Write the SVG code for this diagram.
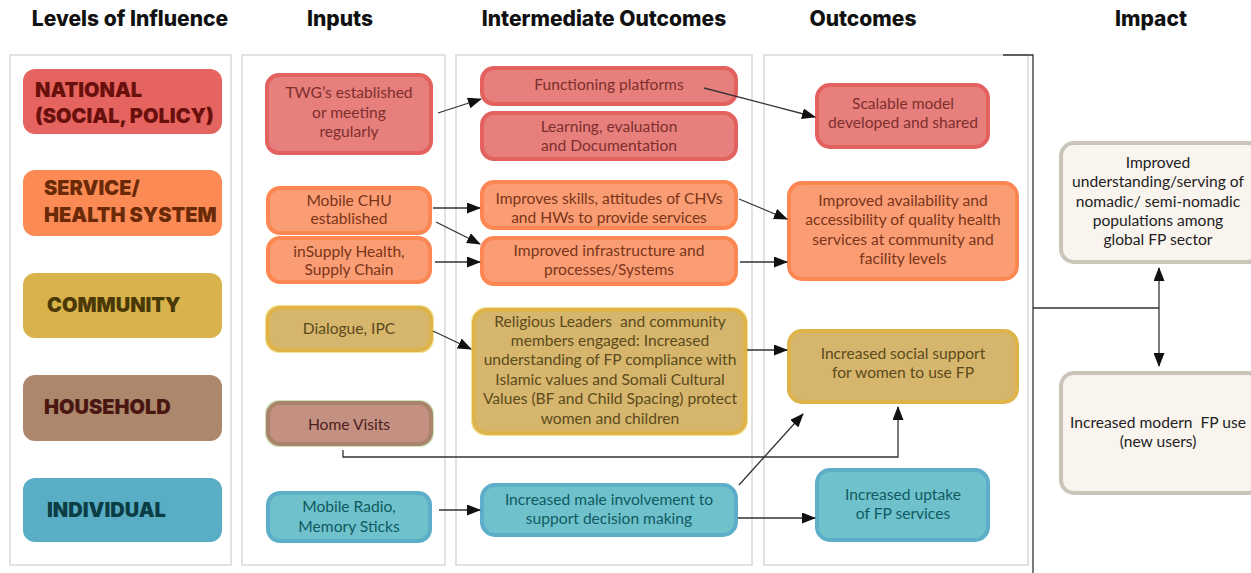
<svg xmlns="http://www.w3.org/2000/svg" width="1251" height="573" viewBox="0 0 1251 573">
  <defs>
    <marker id="arrow" viewBox="0 0 14 11" refX="13" refY="5.5" markerWidth="14" markerHeight="11" markerUnits="userSpaceOnUse" orient="auto-start-reverse">
      <path d="M0,0 L14,5.5 L0,11 z" fill="#111"/>
    </marker>
    <style>
      .hdr { font-family: Inter, "Liberation Sans", sans-serif; font-weight: 800; font-size: 21px; fill: #111; text-anchor: middle; }
      .panel { fill: #fff; stroke: #d9d9d9; stroke-width: 1.5; }
      .lvl { font-family: Inter, "Liberation Sans", sans-serif; font-weight: 900; font-size: 20px; }
      .txt { font-family: Lato, "Open Sans", sans-serif; font-size: 15.6px; text-anchor: middle; dominant-baseline: central; white-space: pre; }
      .box { stroke-width: 4; }
      .red { fill: #e77f7d; stroke: #e3615e; }
      .red-t { fill: #7e2f2d; }
      .org { fill: #fb9d74; stroke: #fc8752; }
      .org-t { fill: #7a3519; }
      .yel { fill: #d5b66c; stroke: #deb44a; }
      .yel-t { fill: #5c4a1c; }
      .brn { fill: #c49082; stroke: #a9836a; }
      .brn-t { fill: #4a1f1f; }
      .blu { fill: #6fc2cb; stroke: #5caec9; }
      .blu-t { fill: #0f5a62; }
      .imp { fill: #faf4ef; stroke: #c9c6b9; }
      .imp-t { fill: #222; }
      .conn path { fill: none; stroke: #333; stroke-width: 1.3; }
    </style>
  </defs>

  <!-- column headings -->
  <g id="headings">
    <text class="hdr" x="130" y="26">Levels of Influence</text>
    <text class="hdr" x="340" y="26">Inputs</text>
    <text class="hdr" x="604" y="26">Intermediate Outcomes</text>
    <text class="hdr" x="863" y="26">Outcomes</text>
    <text class="hdr" x="1151" y="26">Impact</text>
  </g>

  <!-- column panels -->
  <g id="panels">
    <rect class="panel" x="10" y="55" width="221" height="510"/>
    <rect class="panel" x="242" y="55" width="203" height="510"/>
    <rect class="panel" x="456" y="55" width="296" height="510"/>
    <rect class="panel" x="764" y="55" width="264" height="510"/>
  </g>

  <!-- levels of influence -->
  <g id="level-national">
    <rect x="23" y="69" width="199" height="65" rx="12" fill="#e5645f"/>
    <text class="lvl" fill="#6a100c" x="35" y="97">NATIONAL</text>
    <text class="lvl" fill="#6a100c" x="35" y="123">(SOCIAL, POLICY)</text>
  </g>
  <g id="level-service">
    <rect x="23" y="170" width="199" height="66" rx="12" fill="#fc8a55"/>
    <text class="lvl" fill="#6a2a08" x="44" y="195">SERVICE/</text>
    <text class="lvl" fill="#6a2a08" x="44" y="222">HEALTH SYSTEM</text>
  </g>
  <g id="level-community">
    <rect x="23" y="273" width="199" height="65" rx="12" fill="#d8b24a"/>
    <text class="lvl" fill="#4a3806" x="47" y="312">COMMUNITY</text>
  </g>
  <g id="level-household">
    <rect x="23" y="375" width="199" height="66" rx="12" fill="#ad876b"/>
    <text class="lvl" fill="#4a1612" x="44" y="414">HOUSEHOLD</text>
  </g>
  <g id="level-individual">
    <rect x="23" y="478" width="199" height="64" rx="12" fill="#59adc5"/>
    <text class="lvl" fill="#0b3e44" x="47" y="517">INDIVIDUAL</text>
  </g>

  <!-- inputs -->
  <g id="in-twg">
    <rect class="box red" x="267" y="75" width="164" height="78" rx="12"/>
    <text class="txt red-t" x="349" y="92">TWG’s established</text>
    <text class="txt red-t" x="349" y="112">or meeting</text>
    <text class="txt red-t" x="349" y="131">regularly</text>
  </g>
  <g id="in-chu">
    <rect class="box org" x="268" y="188" width="162" height="45" rx="12"/>
    <text class="txt org-t" x="349" y="200">Mobile CHU</text>
    <text class="txt org-t" x="349" y="218">established</text>
  </g>
  <g id="in-insupply">
    <rect class="box org" x="268" y="238" width="162" height="44" rx="12"/>
    <text class="txt org-t" x="349" y="251">inSupply Health,</text>
    <text class="txt org-t" x="349" y="269">Supply Chain</text>
  </g>
  <g id="in-dialogue">
    <rect x="266" y="306" width="167" height="46" rx="13" fill="none" stroke="#f4e394" stroke-width="2"/>
    <rect class="box yel" x="268" y="308" width="163" height="42" rx="12"/>
    <text class="txt yel-t" x="349" y="328">Dialogue, IPC</text>
  </g>
  <g id="in-home">
    <rect x="266" y="401" width="167" height="45" rx="13" fill="none" stroke="#cfe3bd" stroke-width="2"/>
    <rect class="box brn" x="268" y="403" width="163" height="41" rx="12"/>
    <text class="txt brn-t" x="349" y="424">Home Visits</text>
  </g>
  <g id="in-radio">
    <rect class="box blu" x="268" y="493" width="162" height="48" rx="12"/>
    <text class="txt blu-t" x="349" y="506">Mobile Radio,</text>
    <text class="txt blu-t" x="349" y="526">Memory Sticks</text>
  </g>

  <!-- intermediate outcomes -->
  <g id="io-platforms">
    <rect class="box red" x="482" y="68" width="254" height="36" rx="12"/>
    <text class="txt red-t" x="609" y="84">Functioning platforms</text>
  </g>
  <g id="io-learning">
    <rect class="box red" x="482" y="113" width="254" height="46" rx="12"/>
    <text class="txt red-t" x="609" y="126">Learning, evaluation</text>
    <text class="txt red-t" x="609" y="145">and Documentation</text>
  </g>
  <g id="io-skills">
    <rect class="box org" x="482" y="182" width="254" height="46" rx="12"/>
    <text class="txt org-t" x="609" y="198">Improves skills, attitudes of CHVs</text>
    <text class="txt org-t" x="609" y="217">and HWs to provide services</text>
  </g>
  <g id="io-infra">
    <rect class="box org" x="482" y="238" width="254" height="46" rx="12"/>
    <text class="txt org-t" x="609" y="250">Improved infrastructure and</text>
    <text class="txt org-t" x="609" y="269">processes/Systems</text>
  </g>
  <g id="io-religious">
    <rect x="472" y="308" width="275" height="127" rx="14" fill="none" stroke="#f4e394" stroke-width="2"/>
    <rect class="box yel" x="474" y="310" width="271" height="123" rx="13"/>
    <text class="txt yel-t" x="610" y="321">Religious Leaders  and community</text>
    <text class="txt yel-t" x="610" y="340">members engaged: Increased</text>
    <text class="txt yel-t" x="610" y="359">understanding of FP compliance with</text>
    <text class="txt yel-t" x="610" y="379">Islamic values and Somali Cultural</text>
    <text class="txt yel-t" x="610" y="398">Values (BF and Child Spacing) protect</text>
    <text class="txt yel-t" x="610" y="418">women and children</text>
  </g>
  <g id="io-male">
    <rect class="box blu" x="482" y="485" width="254" height="50" rx="13"/>
    <text class="txt blu-t" x="609" y="499">Increased male involvement to</text>
    <text class="txt blu-t" x="609" y="518">support decision making</text>
  </g>

  <!-- outcomes -->
  <g id="out-scalable">
    <rect class="box red" x="817" y="85" width="171" height="62" rx="13"/>
    <text class="txt red-t" x="903" y="103">Scalable model</text>
    <text class="txt red-t" x="903" y="122">developed and shared</text>
  </g>
  <g id="out-availability">
    <rect class="box org" x="789" y="183" width="228" height="96" rx="13"/>
    <text class="txt org-t" x="903" y="200">Improved availability and</text>
    <text class="txt org-t" x="903" y="219">accessibility of quality health</text>
    <text class="txt org-t" x="903" y="239">services at community and</text>
    <text class="txt org-t" x="903" y="258">facility levels</text>
  </g>
  <g id="out-social">
    <rect class="box yel" x="789" y="331" width="228" height="71" rx="13"/>
    <text class="txt yel-t" x="903" y="353">Increased social support</text>
    <text class="txt yel-t" x="903" y="372">for women to use FP</text>
  </g>
  <g id="out-uptake">
    <rect class="box blu" x="817" y="470" width="171" height="70" rx="13"/>
    <text class="txt blu-t" x="903" y="494">Increased uptake</text>
    <text class="txt blu-t" x="903" y="513">of FP services</text>
  </g>

  <!-- impact -->
  <g id="impact-understanding">
    <rect class="box imp" x="1061" y="143" width="200" height="119" rx="13"/>
    <text class="txt imp-t" x="1158" y="162">Improved</text>
    <text class="txt imp-t" x="1158" y="181">understanding/serving of</text>
    <text class="txt imp-t" x="1158" y="201">nomadic/ semi-nomadic</text>
    <text class="txt imp-t" x="1158" y="220">populations among</text>
    <text class="txt imp-t" x="1158" y="239">global FP sector</text>
  </g>
  <g id="impact-use">
    <rect class="box imp" x="1061" y="373" width="200" height="120" rx="13"/>
    <text class="txt imp-t" x="1158" y="422">Increased modern  FP use</text>
    <text class="txt imp-t" x="1158" y="441">(new users)</text>
  </g>

  <!-- connectors -->
  <g id="connectors" class="conn">
    <path d="M438,113 L481,99" marker-end="url(#arrow)"/>
    <path d="M704,88 L815,117" marker-end="url(#arrow)"/>
    <path d="M433,208 L480,208" marker-end="url(#arrow)"/>
    <path d="M436,222 L480,244" marker-end="url(#arrow)"/>
    <path d="M435,262 L480,262" marker-end="url(#arrow)"/>
    <path d="M739,199 L787,219" marker-end="url(#arrow)"/>
    <path d="M740,262 L787,262" marker-end="url(#arrow)"/>
    <path d="M433,331 L471,349" marker-end="url(#arrow)"/>
    <path d="M747,350 L787,350" marker-end="url(#arrow)"/>
    <path d="M343,450 L343,457 L898,457 L898,407" marker-end="url(#arrow)"/>
    <path d="M439,510 L480,510" marker-end="url(#arrow)"/>
    <path d="M739,485 L803,414" marker-end="url(#arrow)"/>
    <path d="M738,518 L815,518" marker-end="url(#arrow)"/>
    <path d="M1003,55 L1033,55 L1033,573"/>
    <path d="M1033,308 L1159,308"/>
    <path d="M1159,268 L1159,366" marker-start="url(#arrow)" marker-end="url(#arrow)"/>
  </g>
</svg>
